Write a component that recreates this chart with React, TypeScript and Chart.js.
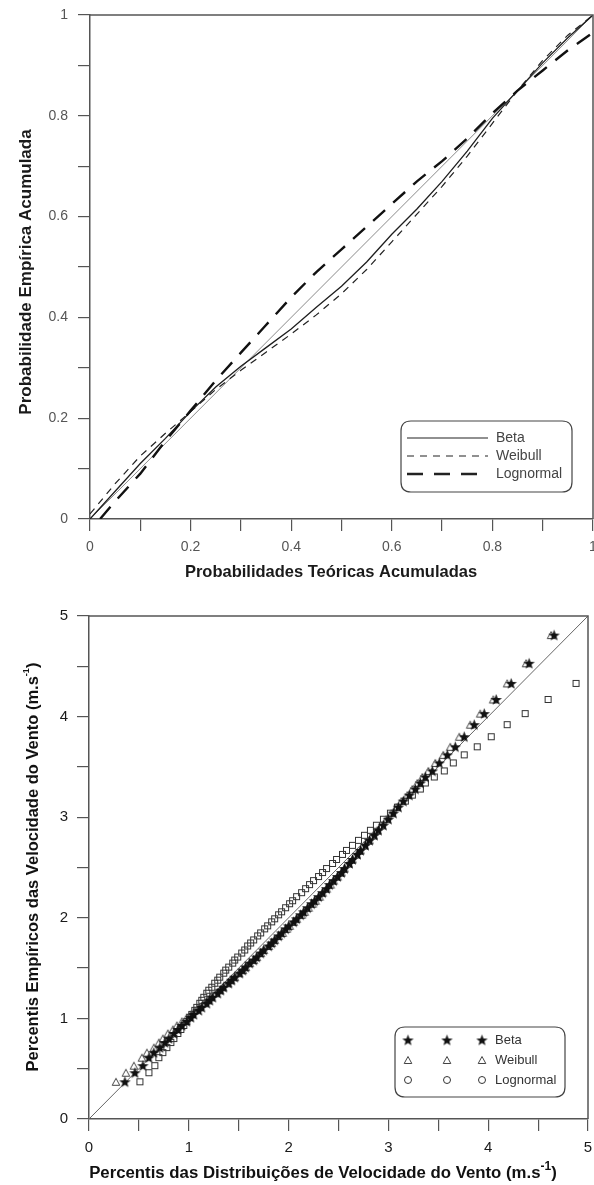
import React, { useEffect, useRef } from 'react';
import { Chart, registerables } from 'chart.js';

Chart.register(...registerables);

// ---------- Top chart: P-P plot ----------
const ppTheoretical = [0, 0.05, 0.1, 0.15, 0.2, 0.25, 0.3, 0.35, 0.4, 0.45, 0.5, 0.55, 0.6, 0.65, 0.7, 0.75, 0.8, 0.85, 0.9, 0.95, 1];
const ppBeta = [0, 0.055, 0.11, 0.16, 0.213, 0.262, 0.303, 0.34, 0.377, 0.42, 0.462, 0.51, 0.565, 0.615, 0.67, 0.73, 0.795, 0.85, 0.905, 0.955, 1];
const ppWeibull = [0.01, 0.07, 0.125, 0.17, 0.213, 0.257, 0.295, 0.331, 0.367, 0.405, 0.447, 0.495, 0.55, 0.605, 0.66, 0.72, 0.785, 0.85, 0.91, 0.96, 1];
const ppLognormalTheoretical = [0.02, 0.05, 0.1, 0.15, 0.2, 0.25, 0.3, 0.35, 0.4, 0.45, 0.5, 0.55, 0.6, 0.65, 0.7, 0.75, 0.8, 0.85, 0.9, 0.95, 1];
const ppLognormal = [0, 0.035, 0.09, 0.155, 0.215, 0.275, 0.33, 0.385, 0.44, 0.49, 0.535, 0.58, 0.625, 0.67, 0.71, 0.755, 0.805, 0.85, 0.89, 0.93, 0.965];
const ppReference = [0, 1];
const ppTickLabels = ['0', '0.2', '0.4', '0.6', '0.8', '1'];
const ppLegend = ['Beta', 'Weibull', 'Lognormal'];

// ---------- Bottom chart: Q-Q plot ----------
const qqEmpirical = [
  0.37, 0.46, 0.53, 0.61, 0.66, 0.71, 0.76, 0.80, 0.85, 0.89, 0.93, 0.97, 1.01, 1.04, 1.08, 1.11, 1.15, 1.18, 1.21, 1.25,
  1.28, 1.31, 1.35, 1.38, 1.41, 1.45, 1.48, 1.51, 1.55, 1.58, 1.61, 1.65, 1.68, 1.72, 1.75, 1.78, 1.82, 1.85, 1.89, 1.92,
  1.96, 1.99, 2.03, 2.06, 2.10, 2.14, 2.17, 2.21, 2.25, 2.29, 2.33, 2.37, 2.41, 2.45, 2.49, 2.54, 2.58, 2.63, 2.67, 2.72,
  2.77, 2.82, 2.87, 2.92, 2.98, 3.04, 3.10, 3.16, 3.22, 3.28, 3.34, 3.40, 3.46, 3.54, 3.62, 3.70, 3.80, 3.92, 4.03, 4.17,
  4.33, 4.53, 4.81,
];
const qqBeta = [
  0.36, 0.46, 0.54, 0.60, 0.65, 0.71, 0.76, 0.80, 0.85, 0.89, 0.93, 0.98, 1.02, 1.05, 1.10, 1.13, 1.18, 1.21, 1.24, 1.29,
  1.32, 1.35, 1.40, 1.43, 1.46, 1.51, 1.54, 1.57, 1.61, 1.65, 1.68, 1.72, 1.75, 1.80, 1.83, 1.86, 1.90, 1.93, 1.97, 2.00,
  2.05, 2.08, 2.12, 2.15, 2.19, 2.23, 2.26, 2.30, 2.34, 2.38, 2.41, 2.45, 2.49, 2.53, 2.56, 2.61, 2.64, 2.69, 2.72, 2.77,
  2.81, 2.86, 2.90, 2.95, 3.00, 3.05, 3.10, 3.15, 3.21, 3.27, 3.32, 3.37, 3.44, 3.51, 3.59, 3.67, 3.76, 3.86, 3.96, 4.08,
  4.23, 4.41, 4.66,
];
const qqWeibull = [
  0.27, 0.37, 0.45, 0.53, 0.58, 0.65, 0.70, 0.74, 0.79, 0.84, 0.88, 0.93, 0.98, 1.02, 1.06, 1.10, 1.15, 1.19, 1.22, 1.27,
  1.31, 1.34, 1.39, 1.42, 1.46, 1.50, 1.54, 1.57, 1.61, 1.65, 1.68, 1.72, 1.75, 1.80, 1.83, 1.86, 1.90, 1.94, 1.98, 2.01,
  2.05, 2.08, 2.13, 2.16, 2.20, 2.24, 2.27, 2.31, 2.34, 2.38, 2.42, 2.45, 2.49, 2.53, 2.56, 2.60, 2.64, 2.68, 2.72, 2.76,
  2.81, 2.85, 2.89, 2.93, 2.98, 3.03, 3.08, 3.13, 3.19, 3.24, 3.29, 3.34, 3.40, 3.47, 3.55, 3.62, 3.71, 3.82, 3.92, 4.05,
  4.19, 4.38, 4.63,
];
// the two largest empirical percentiles fall beyond 5 for Lognormal (outside the axes)
const qqLognormal = [
  0.51, 0.60, 0.66, 0.70, 0.74, 0.78, 0.82, 0.85, 0.89, 0.92, 0.95, 0.98, 1.01, 1.03, 1.06, 1.08, 1.11, 1.13, 1.15, 1.18,
  1.20, 1.23, 1.26, 1.29, 1.31, 1.35, 1.37, 1.40, 1.44, 1.46, 1.49, 1.53, 1.56, 1.59, 1.62, 1.65, 1.69, 1.72, 1.76, 1.79,
  1.83, 1.86, 1.90, 1.93, 1.97, 2.01, 2.04, 2.08, 2.13, 2.17, 2.21, 2.25, 2.30, 2.34, 2.38, 2.44, 2.48, 2.54, 2.58, 2.64,
  2.70, 2.76, 2.82, 2.88, 2.95, 3.02, 3.09, 3.17, 3.24, 3.32, 3.37, 3.46, 3.56, 3.65, 3.76, 3.89, 4.03, 4.19, 4.37, 4.60,
  4.88,
];
const qqReference = [0, 5];
const qqTickLabels = ['0', '1', '2', '3', '4', '5'];
const qqLegend = ['Beta', 'Weibull', 'Lognormal'];

const FONT = '"Liberation Sans", Arial, Helvetica, sans-serif';
const AXIS = '#555';

type Part = { t: string; sup?: boolean };

function drawRich(ctx: CanvasRenderingContext2D, parts: Part[], x: number, y: number, rotate: boolean, size: number, supScale: number, color: string) {
  ctx.save();
  ctx.translate(x, y);
  if (rotate) ctx.rotate(-Math.PI / 2);
  ctx.fillStyle = color;
  ctx.textBaseline = 'middle';
  ctx.textAlign = 'left';
  const fontFor = (p: Part) => `bold ${p.sup ? size * supScale : size}px ${FONT}`;
  let total = 0;
  for (const p of parts) { ctx.font = fontFor(p); total += ctx.measureText(p.t).width; }
  let cx = -total / 2;
  for (const p of parts) {
    ctx.font = fontFor(p);
    ctx.fillText(p.t, cx, p.sup ? -size * 0.38 : 0);
    cx += ctx.measureText(p.t).width;
  }
  ctx.restore();
}

function roundBox(ctx: CanvasRenderingContext2D, x: number, y: number, w: number, h: number, r: number) {
  ctx.beginPath();
  ctx.moveTo(x + r, y);
  ctx.lineTo(x + w - r, y);
  ctx.quadraticCurveTo(x + w, y, x + w, y + r);
  ctx.lineTo(x + w, y + h - r);
  ctx.quadraticCurveTo(x + w, y + h, x + w - r, y + h);
  ctx.lineTo(x + r, y + h);
  ctx.quadraticCurveTo(x, y + h, x, y + h - r);
  ctx.lineTo(x, y + r);
  ctx.quadraticCurveTo(x, y, x + r, y);
  ctx.closePath();
}

function makeMarkers() {
  const star = document.createElement('canvas');
  star.width = 13; star.height = 13;
  const s = star.getContext('2d')!;
  s.beginPath();
  for (let i = 0; i < 10; i++) {
    const r = i % 2 === 0 ? 6 : 2.5;
    const a = -Math.PI / 2 + (i * Math.PI) / 5;
    const px = 6.5 + r * Math.cos(a);
    const py = 7 + r * Math.sin(a);
    if (i === 0) s.moveTo(px, py); else s.lineTo(px, py);
  }
  s.closePath();
  s.fillStyle = '#111';
  s.fill();

  const tri = document.createElement('canvas');
  tri.width = 10; tri.height = 10;
  const t = tri.getContext('2d')!;
  t.beginPath();
  t.moveTo(5, 1.5); t.lineTo(8.8, 8.5); t.lineTo(1.2, 8.5); t.closePath();
  t.strokeStyle = '#444'; t.lineWidth = 1; t.stroke();

  const sq = document.createElement('canvas');
  sq.width = 9; sq.height = 9;
  const q = sq.getContext('2d')!;
  q.strokeStyle = '#333'; q.lineWidth = 1;
  q.strokeRect(1.5, 1.5, 6, 6);

  const circ = document.createElement('canvas');
  circ.width = 10; circ.height = 10;
  const c = circ.getContext('2d')!;
  c.beginPath(); c.arc(5, 5, 3.5, 0, Math.PI * 2);
  c.strokeStyle = '#333'; c.lineWidth = 1; c.stroke();

  return { star, tri, sq, circ };
}

function axis(min: number, max: number, step: number, labels: string[], fontSize: number, color: string, pad: number, fit: (s: any) => void) {
  return {
    type: 'linear' as const,
    min, max,
    ticks: {
      stepSize: step,
      autoSkip: false,
      maxRotation: 0,
      padding: pad,
      color,
      font: { family: FONT, size: fontSize },
      callback: (_v: any, i: number) => (i % 2 === 0 ? labels[i / 2] : ''),
    },
    grid: { drawOnChartArea: false, drawTicks: true, tickLength: 12, color: AXIS, lineWidth: 1.2 },
    border: { display: true, color: AXIS, width: 1.5 },
    title: { display: false },
    afterFit: fit,
  };
}

function frame(ctx: CanvasRenderingContext2D, a: any) {
  ctx.save();
  ctx.strokeStyle = AXIS;
  ctx.lineWidth = 1.5;
  ctx.beginPath();
  ctx.moveTo(a.left, a.top);
  ctx.lineTo(a.right, a.top);
  ctx.lineTo(a.right, a.bottom);
  ctx.stroke();
  ctx.restore();
}

function topConfig(): any {
  const toPts = (xs: number[], ys: number[]) => xs.map((x, i) => ({ x, y: ys[i] }));
  const deco = {
    id: 'ppDeco',
    afterDraw(chart: any) {
      const ctx = chart.ctx as CanvasRenderingContext2D;
      frame(ctx, chart.chartArea);
      drawRich(ctx, [{ t: 'Probabilidades Teóricas Acumuladas' }], 331, 572, false, 16.5, 0.6, '#1a1a1a');
      drawRich(ctx, [{ t: 'Probabilidade Empírica Acumulada' }], 26, 272, true, 17, 0.6, '#1a1a1a');
      // legend
      ctx.save();
      roundBox(ctx, 401, 421, 171, 71, 10);
      ctx.fillStyle = '#fff';
      ctx.fill();
      ctx.strokeStyle = '#444';
      ctx.lineWidth = 1.2;
      ctx.stroke();
      const rows = [438, 456, 474];
      const styles = [
        { dash: [] as number[], w: 1.2 },
        { dash: [7, 6], w: 1.2 },
        { dash: [16, 11], w: 2.4 },
      ];
      rows.forEach((ry, i) => {
        ctx.beginPath();
        ctx.setLineDash(styles[i].dash);
        ctx.lineWidth = styles[i].w;
        ctx.strokeStyle = '#222';
        ctx.moveTo(407, ry);
        ctx.lineTo(488, ry);
        ctx.stroke();
        ctx.setLineDash([]);
        ctx.fillStyle = '#444';
        ctx.font = `14px ${FONT}`;
        ctx.textBaseline = 'middle';
        ctx.textAlign = 'left';
        ctx.fillText(ppLegend[i], 496, ry);
      });
      ctx.restore();
    },
  };
  return {
    type: 'scatter',
    data: {
      datasets: [
        { label: ppLegend[0], data: toPts(ppTheoretical, ppBeta), showLine: true, borderColor: '#1e1e1e', borderWidth: 1.3, pointRadius: 0, order: 1 },
        { label: ppLegend[1], data: toPts(ppTheoretical, ppWeibull), showLine: true, borderColor: '#222', borderWidth: 1.2, borderDash: [7, 6], pointRadius: 0, order: 2 },
        { label: ppLegend[2], data: toPts(ppLognormalTheoretical, ppLognormal), showLine: true, borderColor: '#111', borderWidth: 2.4, borderDash: [16, 11], pointRadius: 0, order: 0 },
        { label: 'ref', data: toPts(ppReference, ppReference), showLine: true, borderColor: '#8a8a8a', borderWidth: 1, pointRadius: 0, order: 3 },
      ],
    },
    options: {
      responsive: false,
      animation: false,
      devicePixelRatio: 1,
      layout: { padding: { left: 0, top: 15, right: 1, bottom: 0 } },
      plugins: { legend: { display: false }, tooltip: { enabled: false } },
      scales: {
        x: axis(0, 1, 0.1, ppTickLabels, 14, '#555', 8, (s: any) => { s.height = 76; s.paddingLeft = 0; s.paddingRight = 0; }),
        y: axis(0, 1, 0.1, ppTickLabels, 14, '#555', 10, (s: any) => { s.width = 90; s.paddingTop = 0; s.paddingBottom = 0; }),
      },
    },
    plugins: [deco],
  };
}

function bottomConfig(m: ReturnType<typeof makeMarkers>): any {
  const toPts = (xs: number[], ys: number[]) => xs.map((x, i) => ({ x, y: ys[i] }));
  const deco = {
    id: 'qqDeco',
    afterDraw(chart: any) {
      const ctx = chart.ctx as CanvasRenderingContext2D;
      frame(ctx, chart.chartArea);
      drawRich(ctx, [{ t: 'Percentis das Distribuições de Velocidade do Vento (m.s' }, { t: '-1', sup: true }, { t: ')' }], 323, 578, false, 16.8, 0.72, '#111');
      drawRich(ctx, [{ t: 'Percentis Empíricos das Velocidade do Vento (m.s' }, { t: '-1', sup: true }, { t: ')' }], 33, 272, true, 16.5, 0.55, '#111');
      ctx.save();
      roundBox(ctx, 395, 432, 170, 70, 10);
      ctx.fillStyle = '#fff';
      ctx.fill();
      ctx.strokeStyle = '#444';
      ctx.lineWidth = 1.2;
      ctx.stroke();
      const rows = [445, 465, 485];
      const imgs = [m.star, m.tri, m.circ];
      rows.forEach((ry, i) => {
        [408, 447, 482].forEach((mx) => {
          const im = imgs[i];
          ctx.drawImage(im, mx - im.width / 2, ry - im.height / 2);
        });
        ctx.fillStyle = '#333';
        ctx.font = `13px ${FONT}`;
        ctx.textBaseline = 'middle';
        ctx.textAlign = 'left';
        ctx.fillText(qqLegend[i], 495, ry);
      });
      ctx.restore();
    },
  };
  return {
    type: 'scatter',
    data: {
      datasets: [
        { label: qqLegend[0], data: toPts(qqBeta, qqEmpirical), pointStyle: m.star, pointRadius: 5, order: 0 },
        { label: qqLegend[1], data: toPts(qqWeibull, qqEmpirical), pointStyle: m.tri, pointRadius: 4, order: 1 },
        { label: qqLegend[2], data: toPts(qqLognormal, qqEmpirical.slice(0, qqLognormal.length)), pointStyle: m.sq, pointRadius: 4, order: 2 },
        { label: 'ref', data: toPts(qqReference, qqReference), showLine: true, borderColor: '#666', borderWidth: 1, pointRadius: 0, order: 3 },
      ],
    },
    options: {
      responsive: false,
      animation: false,
      devicePixelRatio: 1,
      layout: { padding: { left: 0, top: 21, right: 2, bottom: 0 } },
      plugins: { legend: { display: false }, tooltip: { enabled: false } },
      scales: {
        x: axis(0, 5, 0.5, qqTickLabels, 15, '#1a1a1a', 8, (s: any) => { s.height = 66; s.paddingLeft = 0; s.paddingRight = 0; }),
        y: axis(0, 5, 0.5, qqTickLabels, 15, '#1a1a1a', 9, (s: any) => { s.width = 89; s.paddingTop = 0; s.paddingBottom = 0; }),
      },
    },
    plugins: [deco],
  };
}

export default function App() {
  const topRef = useRef<HTMLCanvasElement>(null);
  const botRef = useRef<HTMLCanvasElement>(null);
  useEffect(() => {
    const m = makeMarkers();
    const c1 = new Chart(topRef.current as HTMLCanvasElement, topConfig());
    const c2 = new Chart(botRef.current as HTMLCanvasElement, bottomConfig(m));
    return () => {
      c1.destroy();
      c2.destroy();
    };
  }, []);
  return (
    <div style={{ position: 'absolute', left: 0, top: 0, width: 594, height: 1185, background: '#fff' }}>
      <canvas ref={topRef} width={594} height={595} style={{ display: 'block', width: 594, height: 595 }} />
      <canvas ref={botRef} width={594} height={590} style={{ display: 'block', width: 594, height: 590 }} />
    </div>
  );
}
